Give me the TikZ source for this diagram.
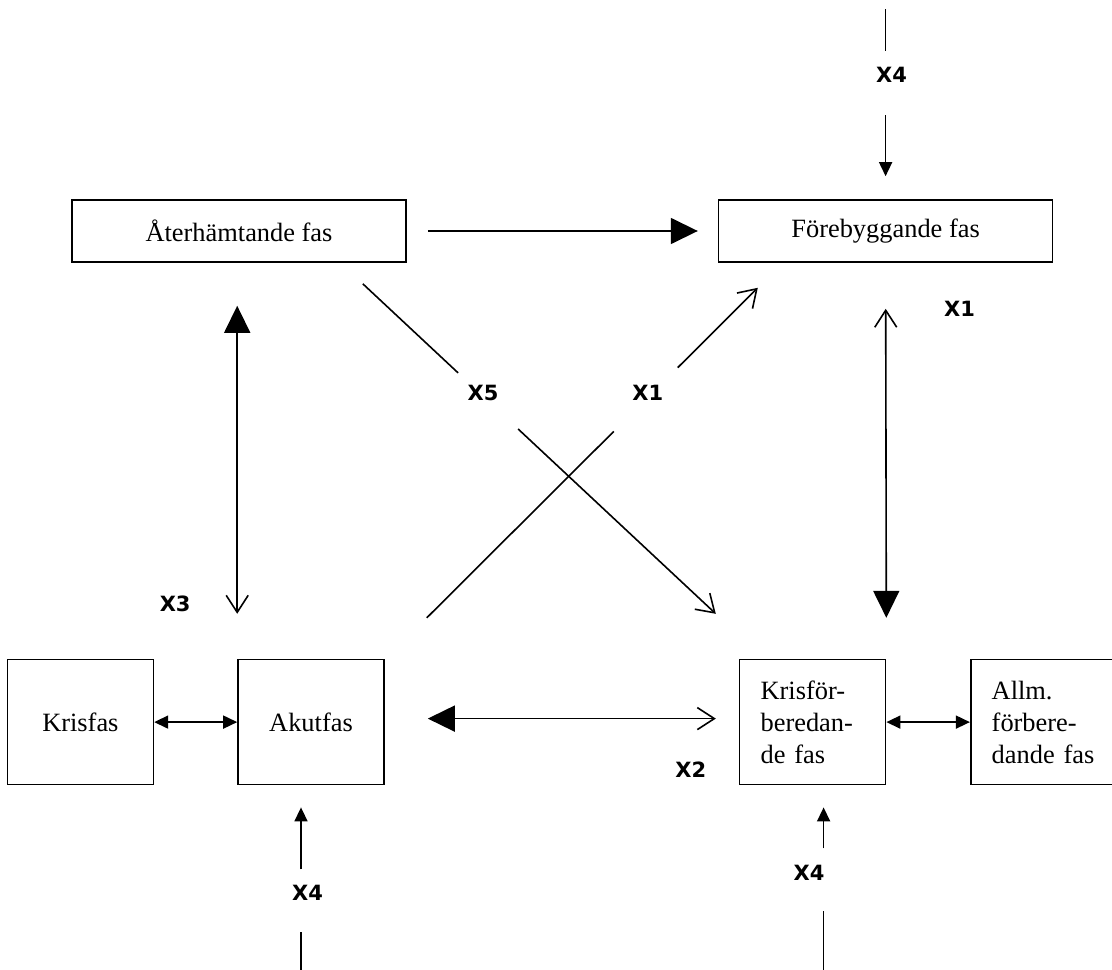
\documentclass[tikz,border=0pt]{standalone}
\usepackage{fontspec}
\setmainfont{Liberation Serif}
\newfontfamily\tagfamily{DejaVu Sans}
\usepackage{tikz}
\usetikzlibrary{shapes.geometric, arrows, arrows.meta, positioning, calc}
\newcommand{\phasefont}{\fontsize{13.2}{16}\selectfont}
\newcommand{\tagfont}{\tagfamily\bfseries\fontsize{10.5}{12}\selectfont}
\tikzset{bigtip/.tip={Triangle[length=13.5pt,width=13pt]},
smalltip/.tip={Triangle[length=7pt,width=6.5pt]},
opentip/.tip={Straight Barb[length=8.5pt,width=11pt]}}
\tikzstyle{phase} = [rectangle,
minimum width=167pt,
minimum height=31pt,
text centered,
draw=black, line width=0.8pt,
font=\phasefont]
\tikzstyle{stage} = [rectangle,
minimum width=73pt,
minimum height=62.5pt,
text centered,
draw=black, line width=0.8pt,
font=\phasefont]
\tikzstyle{stagetext} = [stage,
align=left,
text width=52pt,
inner xsep=10.5pt]
\tikzstyle{tag} = [inner sep=0pt, font=\tagfont]
\tikzstyle{line} = [line width=0.8pt]
\tikzstyle{smallarrow} = [line, -smalltip]
\tikzstyle{openarrow} = [line, -opentip]

\begin{document}
\begin{tikzpicture}[node distance=41.5pt]
                \useasboundingbox (-119.5pt,115.5pt) rectangle (436.5pt,-369pt);

                \node (ater) [phase] at (0,0) {Återhämtande fas};
                \node (fore) [phase, right=155.5pt of ater] {Förebyggande fas};
                \node (akut) [stage, below=198pt of ater, xshift=36pt] {Akutfas};
                \node (krisfas) [stage, left=of akut] {Krisfas};
                \node (krisforb) [stagetext, below=198pt of fore, xshift=-36.5pt] {Krisför-\\beredan-\\de fas};
                \node (allm) [stagetext, text width=90pt, right=41.75pt of krisforb] {Allm.\\förbere-\\dande fas};

                % free ends of the X4 inputs and the crossing lines
                \coordinate (topsrc) at ($(fore.north)+(0,95pt)$);
                \coordinate (akutsrc) at ($(akut.south)+(-5pt,-96pt)$);
                \coordinate (forbsrc) at ($(krisforb.south)+(5.5pt,-96pt)$);
                \coordinate (a5) at ($(ater.south east)+(-22pt,-10.5pt)$);
                \coordinate (b5) at ($(krisforb.north west)+(-11.5pt,22.5pt)$);
                \coordinate (a1) at ($(akut.north east)+(21pt,20.5pt)$);
                \coordinate (b1) at ($(fore.south west)+(20pt,-12.5pt)$);

                \node (tagtop) [tag] at ($(fore.north)+(3pt,62.25pt)$) {X4};
                \node (tagakut) [tag] at ($(akut.south)+(-1.75pt,-53.75pt)$) {X4};
                \node (tagforb) [tag] at ($(krisforb.south)+(-1.75pt,-43.5pt)$) {X4};
                \node (tagright) [tag] at ($(fore.south)+(37pt,-23pt)$) {X1};
                \node (tagx3) [tag] at ($(akut.north west)+(-31pt,27.5pt)$) {X3};
                \node (tagx2) [tag] at ($(krisforb.west)+(-24pt,-23.75pt)$) {X2};
                \node (tagx5) [tag] at ($(a5)!0.355!(b5)+(-2.5pt,4pt)$) {X5};
                \node (tagx1) [tag] at ($(a1)!0.66!(b1)+(1.25pt,3.5pt)$) {X1};

                \draw [line, -bigtip, shorten <=10.5pt, shorten >=10pt] (ater) -- (fore);
                \draw [line, bigtip-opentip, shorten <=21.5pt, shorten >=22.5pt] (ater.south -| akut.west) -- (akut.north west);
                \draw [line, opentip-bigtip, shorten <=23pt, shorten >=20.5pt] (fore.south) -- (krisforb.north east);
                \draw [line, bigtip-opentip, shorten <=21.5pt, shorten >=11.5pt] ([yshift=1.75pt]akut.east) -- ([yshift=1.75pt]krisforb.west);
                \draw [line, smalltip-smalltip] (krisfas) -- (akut);
                \draw [line, smalltip-smalltip] (krisforb) -- (allm);

                \draw [line] (a5) -- ($(a5)!0.27!(b5)$);
                \draw [openarrow] ($(a5)!0.44!(b5)$) -- (b5);
                \draw [line] (a1) -- ($(a1)!0.565!(b1)$);
                \draw [openarrow] ($(a1)!0.758!(b1)$) -- (b1);

                \draw [line, shorten >=11.75pt] (topsrc) -- (topsrc |- tagtop);
                \draw [smallarrow, shorten <=20.25pt, shorten >=11.5pt] (topsrc |- tagtop) -- (fore.north);
                \draw [line, shorten >=19.75pt] (akutsrc) -- (akutsrc |- tagakut);
                \draw [smallarrow, shorten <=11.75pt, shorten >=11pt] (akutsrc |- tagakut) -- (akutsrc |- akut.south);
                \draw [line, shorten >=19.5pt] (forbsrc) -- (forbsrc |- tagforb);
                \draw [smallarrow, shorten <=12pt, shorten >=11pt] (forbsrc |- tagforb) -- (forbsrc |- krisforb.south);
            \end{tikzpicture}
\end{document}
